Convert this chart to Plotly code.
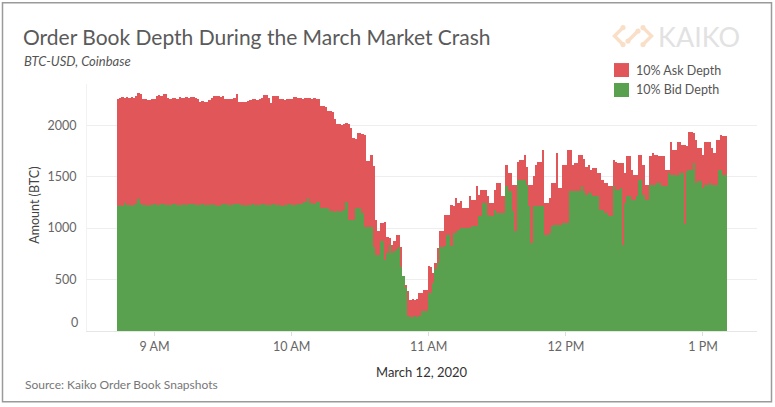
import pandas as pd
import plotly.graph_objects as go

# ---------------- data (one bar per minute) ----------------
start_time = "2020-03-12 08:44"
n_minutes = 267

total_depth = [
    2255, 2260, 2270, 2265, 2270, 2260, 2275, 2265, 2280, 2310,
    2300, 2255, 2250, 2240, 2245, 2255, 2250, 2285, 2290, 2285,
    2300, 2305, 2260, 2255, 2265, 2260, 2250, 2275, 2265, 2260,
    2270, 2265, 2270, 2275, 2265, 2250, 2230, 2235, 2225, 2230,
    2240, 2260, 2280, 2280, 2285, 2275, 2280, 2255, 2255, 2250,
    2255, 2260, 2304, 2230, 2225, 2230, 2225, 2235, 2245, 2250,
    2255, 2245, 2250, 2265, 2290, 2290, 2265, 2216, 2285, 2285,
    2280, 2255, 2250, 2245, 2255, 2250, 2255, 2270, 2270, 2265,
    2260, 2255, 2260, 2265, 2260, 2255, 2260, 2255, 2250, 2190,
    2190, 2180, 2140, 2140, 2130, 2060, 2010, 2010, 2005, 2015,
    2020, 2015, 1970, 1880, 1870, 1925, 1925, 1910, 1900, 1650,
    1650, 1715, 1600, 1080, 970, 1050, 1050, 1055, 910, 900,
    760, 870, 935, 935, 820, 530, 420, 385, 306, 310,
    300, 310, 370, 370, 400, 400, 630, 620, 560, 600,
    810, 970, 970, 1130, 1130, 1130, 1227, 1211, 1292, 1243,
    1259, 1195, 1195, 1195, 1308, 1275, 1275, 1405, 1324, 1372,
    1372, 1372, 1308, 1243, 1243, 1372, 1437, 1437, 1308, 1308,
    1615, 1534, 1534, 1421, 1421, 1647, 1663, 1663, 1712, 1598,
    1421, 1421, 1502, 1615, 1647, 1647, 1760, 1243, 1243, 1292,
    1437, 1437, 1728, 1389, 1389, 1615, 1615, 1760, 1760, 1615,
    1631, 1631, 1712, 1712, 1670, 1598, 1615, 1566, 1583, 1583,
    1534, 1534, 1469, 1437, 1437, 1405, 1405, 1663, 1647, 1631,
    1631, 1631, 1534, 1696, 1696, 1566, 1518, 1518, 1712, 1712,
    1615, 1421, 1421, 1696, 1728, 1712, 1712, 1696, 1696, 1696,
    1566, 1566, 1841, 1760, 1760, 1841, 1841, 1809, 1809, 1793,
    1938, 1938, 1922, 1857, 1777, 1777, 1712, 1841, 1841, 1841,
    1777, 1728, 1857, 1857, 1906, 1890, 1890,
]

bid_depth = [
    1215, 1220, 1215, 1245, 1225, 1220, 1215, 1225, 1230, 1285,
    1230, 1220, 1225, 1215, 1220, 1225, 1230, 1220, 1225, 1235,
    1230, 1225, 1220, 1225, 1235, 1230, 1225, 1220, 1225, 1230,
    1225, 1230, 1235, 1230, 1225, 1220, 1225, 1230, 1225, 1220,
    1225, 1230, 1225, 1220, 1215, 1225, 1230, 1235, 1225, 1220,
    1225, 1230, 1235, 1230, 1225, 1220, 1215, 1220, 1225, 1230,
    1225, 1220, 1225, 1230, 1235, 1225, 1220, 1225, 1230, 1225,
    1220, 1225, 1215, 1220, 1225, 1230, 1225, 1220, 1225, 1230,
    1235, 1240, 1250, 1290, 1245, 1240, 1235, 1250, 1250, 1200,
    1200, 1195, 1200, 1170, 1165, 1160, 1165, 1160, 1170, 1180,
    1250, 1080, 1080, 1080, 1195, 1200, 1195, 1150, 1015, 1015,
    1015, 1010, 820, 740, 740, 870, 870, 690, 760, 840,
    840, 780, 800, 820, 620, 530, 450, 150, 140, 140,
    145, 140, 145, 190, 190, 190, 370, 370, 470, 660,
    660, 820, 820, 830, 935, 935, 823, 952, 952, 984,
    1001, 1001, 1001, 1001, 1001, 1017, 1017, 1017, 1114, 1114,
    1243, 1243, 1130, 1114, 1114, 1178, 1146, 1146, 1146, 1146,
    1405, 1356, 1356, 1162, 968, 1469, 1469, 1469, 1469, 1421,
    1211, 855, 1211, 1211, 1211, 1211, 1211, 936, 936, 952,
    1017, 1033, 1033, 1033, 1033, 1049, 1049, 1049, 1356, 1356,
    1356, 1356, 1356, 1405, 1356, 1324, 1340, 1340, 1308, 1308,
    1308, 1178, 1178, 1146, 1146, 1114, 1114, 1405, 1372, 1372,
    1389, 840, 1243, 1308, 1308, 1275, 1275, 1308, 1469, 1469,
    1324, 1275, 1275, 1421, 1421, 1421, 1437, 1437, 1405, 1405,
    1405, 1534, 1518, 1518, 1518, 1502, 1534, 1534, 1035, 1550,
    1566, 1566, 1631, 1437, 1453, 1453, 1389, 1421, 1421, 1437,
    1421, 1421, 1421, 1566, 1566, 1518, 1518,
]

# ask depth = stacked top minus bid depth
ask_depth = [t - b for t, b in zip(total_depth, bid_depth)]

times = pd.date_range(start_time, periods=n_minutes, freq="1min")

y_ticks = [500, 1000, 1500, 2000]
x_ticks = ["2020-03-12 09:00", "2020-03-12 10:00", "2020-03-12 11:00",
           "2020-03-12 12:00", "2020-03-12 13:00"]
x_tick_labels = ["9 AM", "10 AM", "11 AM", "12 PM", "1 PM"]

series_names = ["10% Ask Depth", "10% Bid Depth"]
RED = "#E15759"
GREEN = "#59A14F"

# ---------------- layout geometry (pixels) ----------------
W, H = 775, 407
L, R_EDGE, T, B_EDGE = 87, 757, 84, 331.5


def px(x):
    return (x - L) / (R_EDGE - L)


def py(y):
    return (B_EDGE - y) / (B_EDGE - T)


FONT = "Lato, 'Open Sans', sans-serif"

fig = go.Figure()
fig.add_trace(go.Bar(x=times, y=bid_depth, name=series_names[1],
                     marker=dict(color=GREEN, line=dict(width=0)),
                     width=60000, showlegend=False))
fig.add_trace(go.Bar(x=times, y=ask_depth, name=series_names[0],
                     marker=dict(color=RED, line=dict(width=0)),
                     width=60000, showlegend=False))

shapes = []
annotations = []

# outer border
shapes.append(dict(type="rect", xref="paper", yref="paper",
                   x0=px(2.5), x1=px(771.5), y0=py(2.5), y1=py(402.5),
                   line=dict(color="#9a9a9a", width=1.5), layer="below"))

# manual legend
for i, (nm, col) in enumerate(zip(series_names, [RED, GREEN])):
    yc = 70 + 20 * i
    shapes.append(dict(type="rect", xref="paper", yref="paper",
                       x0=px(614), x1=px(629), y0=py(yc - 7), y1=py(yc + 7),
                       fillcolor=col, line=dict(width=0)))
    annotations.append(dict(text=nm, xref="paper", yref="paper",
                            x=px(634), y=py(yc), xanchor="left", yanchor="middle",
                            showarrow=False, font=dict(family=FONT, size=12.5, color="#555555")))

# Kaiko logo (light watermark)
logo_col = "#FADFC8"
logo_paths = [
    [(623, 27.5), (614.5, 36), (623, 44.5)],
    [(643, 27.5), (651.5, 36), (643, 44.5)],
    [(628, 41), (638, 31)],
]
for pts in logo_paths:
    d = "M" + " L".join(f"{px(x)},{py(y)}" for x, y in pts)
    shapes.append(dict(type="path", xref="paper", yref="paper", path=d,
                       line=dict(color=logo_col, width=3.5)))
for (cx, cy) in [(623, 27.5), (623, 44.5), (643, 27.5), (643, 44.5), (628, 41), (638, 31)]:
    shapes.append(dict(type="circle", xref="paper", yref="paper",
                       x0=px(cx - 2.6), x1=px(cx + 2.6), y0=py(cy + 2.6), y1=py(cy - 2.6),
                       fillcolor=logo_col, line=dict(width=0)))
annotations.append(dict(text="KAIKO", xref="paper", yref="paper",
                        x=px(656), y=py(36.5), xanchor="left", yanchor="middle",
                        showarrow=False,
                        font=dict(family=FONT, size=27, color="#E2E2E2")))

# title, subtitle
annotations.append(dict(text="Order Book Depth During the March Market Crash",
                        xref="paper", yref="paper", x=px(21), y=py(36),
                        xanchor="left", yanchor="middle", showarrow=False,
                        font=dict(family=FONT, size=21, color="#5a5a5a")))
annotations.append(dict(text="<i>BTC-USD, Coinbase</i>",
                        xref="paper", yref="paper", x=px(22), y=py(61),
                        xanchor="left", yanchor="middle", showarrow=False,
                        font=dict(family=FONT, size=13, color="#555555")))
# axis titles
annotations.append(dict(text="Amount (BTC)", xref="paper", yref="paper",
                        x=px(35), y=py(206), xanchor="center", yanchor="middle",
                        textangle=-90, showarrow=False,
                        font=dict(family=FONT, size=12.5, color="#444444")))
annotations.append(dict(text="March 12, 2020", xref="paper", yref="paper",
                        x=px(422), y=py(373), xanchor="center", yanchor="middle",
                        showarrow=False,
                        font=dict(family=FONT, size=13, color="#333333")))
annotations.append(dict(text="Source: Kaiko Order Book Snapshots",
                        xref="paper", yref="paper", x=px(23), y=py(385),
                        xanchor="left", yanchor="middle", showarrow=False,
                        font=dict(family=FONT, size=12, color="#777777")))
# zero label (Tableau keeps the bottom label inside the pane)
annotations.append(dict(text="0", xref="paper", yref="paper",
                        x=px(80), y=py(323), xanchor="right", yanchor="middle",
                        showarrow=False,
                        font=dict(family=FONT, size=12.5, color="#666666")))

fig.update_layout(
    width=W, height=H,
    margin=dict(l=L, r=W - R_EDGE, t=T, b=H - B_EDGE, pad=0),
    paper_bgcolor="white", plot_bgcolor="white",
    barmode="stack", bargap=0,
    showlegend=False,
    font=dict(family=FONT, color="#666666"),
    shapes=shapes, annotations=annotations,
    xaxis=dict(type="date",
               range=["2020-03-12 08:30:26", "2020-03-12 13:23:39"],
               tickvals=x_ticks, ticktext=x_tick_labels,
               tickfont=dict(size=12.5, color="#666666"),
               ticks="outside", ticklen=4, tickcolor="#dddddd",
               showgrid=False, showline=True, linecolor="#e6e6e6", linewidth=1,
               zeroline=False),
    yaxis=dict(range=[0, 2400], tickvals=y_ticks,
               tickfont=dict(size=12.5, color="#666666"),
               ticks="", ticklabelstandoff=7,
               showgrid=True, gridcolor="#eeeeee", gridwidth=1,
               showline=True, linecolor="#f2f2f2", linewidth=1,
               zeroline=False),
)

fig.write_html("out.html", config={"displayModeBar": False},
               post_script="document.body.style.margin='0';")
